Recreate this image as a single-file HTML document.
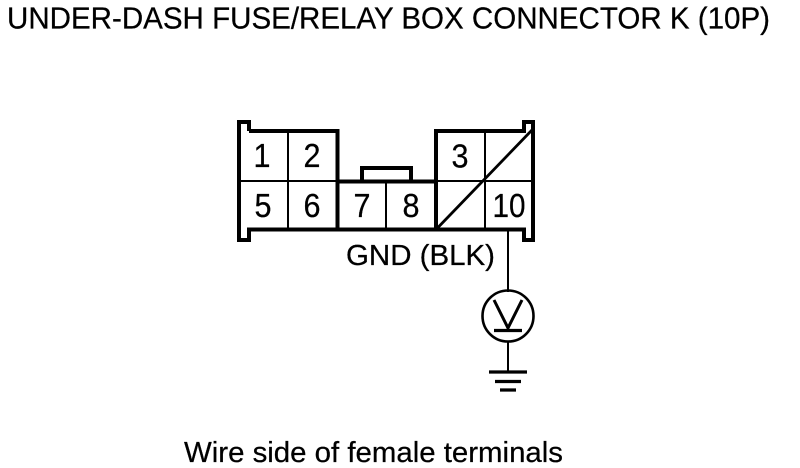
<!DOCTYPE html>
<html><head><meta charset="utf-8"><style>
html,body{margin:0;padding:0;background:#fff}
svg{display:block}
text{font-family:"Liberation Sans",sans-serif;fill:#000;stroke:#000;stroke-width:.25px}
</style></head><body>
<svg width="800" height="468" viewBox="0 0 800 468" xmlns="http://www.w3.org/2000/svg">
<rect width="800" height="468" fill="#fff"/>
<text x="7" y="28.5" font-size="31" textLength="763" lengthAdjust="spacingAndGlyphs">UNDER-DASH FUSE/RELAY BOX CONNECTOR K (10P)</text>
<g fill="none" stroke="#000" stroke-linejoin="miter" shape-rendering="crispEdges">
<path stroke-width="4" d="M249 131V122H239V240H249V229.5H337.5V181.5M337.5 229.5H524V240H533V122H524V131H436V229.5M249 131H337.5V181.5H436"/>
<path stroke-width="4" d="M362 181V168H411V181"/>
<path stroke-width="2" d="M239 181H337M436 181H532M288 131V229M386 181V229M485 131V229M508 231V292M508 341V372"/>
</g>
<g fill="none" stroke="#000">
<path stroke-width="2.8" d="M436.5 229L532 130"/>
<circle cx="508" cy="316" r="25.5" stroke-width="2.6"/>
<path stroke-width="3" d="M494 300L508 328L522 300"/>
<path stroke-width="3.2" d="M494 330.5H522M489 372H527M495 381.5H521M500 390H516"/>
</g>
<g font-size="33" text-anchor="middle">
<text x="262" y="167" textLength="17" lengthAdjust="spacingAndGlyphs">1</text>
<text x="312" y="167" textLength="17" lengthAdjust="spacingAndGlyphs">2</text>
<text x="460" y="167.5" textLength="17" lengthAdjust="spacingAndGlyphs">3</text>
<text x="263" y="217" textLength="17" lengthAdjust="spacingAndGlyphs">5</text>
<text x="312" y="217" textLength="17" lengthAdjust="spacingAndGlyphs">6</text>
<text x="362" y="217" textLength="17" lengthAdjust="spacingAndGlyphs">7</text>
<text x="411" y="217" textLength="17" lengthAdjust="spacingAndGlyphs">8</text>
<text x="509" y="217" textLength="33" lengthAdjust="spacingAndGlyphs">10</text>
</g>
<text x="346" y="265" font-size="29" textLength="149" lengthAdjust="spacingAndGlyphs">GND (BLK)</text>
<text x="184" y="462" font-size="29" textLength="379" lengthAdjust="spacingAndGlyphs">Wire side of female terminals</text>
</svg>
</body></html>
